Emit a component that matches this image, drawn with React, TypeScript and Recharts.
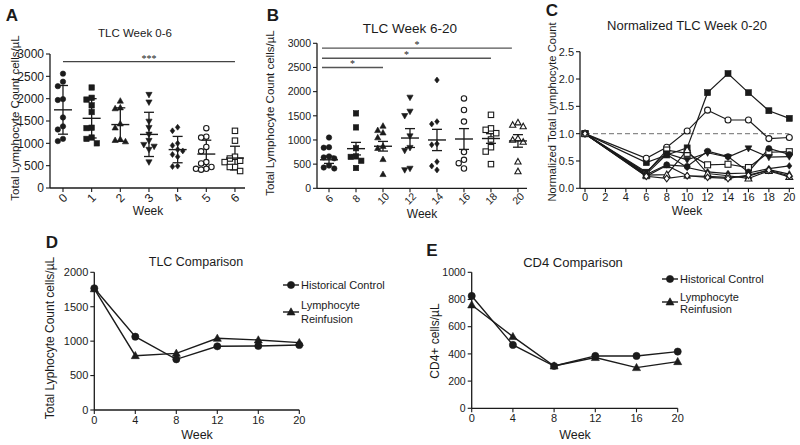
import React from "react";
import {
  ErrorBar,
  Line,
  LineChart,
  ReferenceLine,
  Scatter,
  ScatterChart,
  XAxis,
  YAxis,
} from "recharts";

const W = 800;
const H = 445;
const INK = "#1b1b1b";
const FONT = "'Liberation Sans', Arial, Helvetica, sans-serif";

// A – TLC week 0-6 (cells/µL), mean ± SD
const weeksA = [0, 1, 2, 3, 4, 5, 6];
const tlcA = [
  [2560, 2380, 2280, 1990, 1970, 1580, 1380, 1310, 1100, 1050],
  [2250, 2020, 1980, 1850, 1700, 1350, 1340, 1130, 1100, 1000],
  [1950, 1800, 1780, 1440, 1350, 1090, 1070, 1040],
  [2090, 1920, 1490, 1350, 1200, 1060, 970, 930, 860, 580],
  [1360, 1280, 1000, 950, 860, 830, 750, 700, 490, 480],
  [1340, 1150, 1130, 920, 820, 580, 550, 470, 430, 430, 410],
  [1280, 1060, 700, 660, 610, 580, 470, 470, 380],
];
const meanA = [1750, 1560, 1420, 1200, 860, 760, 670];
const sdA = [545, 440, 375, 495, 295, 310, 265];
const markA = ["circle", "square", "triangle", "itriangle", "diamond", "ocircle", "osquare"];

// B – TLC week 6-20 (cells/µL), mean ± SEM
const weeksB = [6, 8, 10, 12, 14, 16, 18, 20];
const tlcB = [
  [1050, 850, 840, 660, 640, 620, 470, 430, 410],
  [1550, 1260, 830, 660, 650, 570, 420],
  [1290, 1200, 1150, 1050, 870, 830, 600, 290],
  [1880, 1590, 1500, 1080, 840, 780, 410, 380],
  [2240, 1380, 1330, 920, 900, 550, 460, 380],
  [1860, 1620, 1380, 750, 590, 520, 410],
  [1520, 1240, 1210, 1140, 1010, 850, 760, 500],
  [1360, 1310, 1280, 1030, 1000, 960, 550, 350],
];
const meanB = [590, 820, 870, 1040, 1000, 1020, 1030, 980];
const semB = [75, 130, 100, 195, 220, 215, 100, 130];
const markB = ["circle", "square", "triangle", "itriangle", "diamond", "ocircle", "osquare", "otriangle"];

// C – normalized TLC per patient
const weeksC = [0, 6, 8, 10, 12, 14, 16, 18, 20];
const normC = [
  [1, 0.47, 0.61, 0.74, 1.75, 2.1, 1.75, 1.42, 1.28],
  [1, 0.55, 0.75, 1.05, 1.43, 1.25, 1.25, 0.91, 0.93],
  [1, 0.28, 0.7, 0.64, 0.43, 0.44, 0.38, 0.66, 0.67],
  [1, 0.3, 0.64, 0.52, 0.65, 0.57, 0.73, 0.57, 0.58],
  [1, 0.25, 0.43, 0.4, 0.68, 0.58, 0.3, 0.73, 0.62],
  [1, 0.26, 0.62, 0.38, 0.3, 0.27, 0.28, 0.36, 0.41],
  [1, 0.22, 0.42, 0.23, 0.22, 0.2, 0.22, 0.34, 0.26],
  [1, 0.24, 0.25, 0.7, 0.27, 0.23, 0.18, 0.32, 0.21],
  [1, 0.22, 0.18, 0.23, 0.2, 0.18, 0.24, 0.33, 0.23],
];
const markC = ["square", "ocircle", "osquare", "itriangle", "circle", "diamond", "triangle", "otriangle", "odiamond"];

// D / E – group means
const weeksDE = [0, 4, 8, 12, 16, 20];
const tlcHist = [1768, 1065, 736, 925, 930, 944];
const tlcReinf = [1760, 789, 823, 1041, 1017, 978];
const cd4Hist = [826, 466, 311, 385, 385, 417];
const cd4Reinf = [760, 527, 311, 373, 299, 343];

type Box = { L: number; T: number; R: number; B: number };
const margin = (b: Box, yw: number, xh: number) => ({
  left: b.L - yw,
  top: b.T,
  right: W - b.R,
  bottom: H - b.B - xh,
});

function Marker({ kind, cx, cy, s = 2.7 }: { kind: string; cx: number; cy: number; s?: number }) {
  const open = kind.startsWith("o");
  const base = open ? kind.slice(1) : kind;
  const st = { fill: open ? "#fff" : INK, stroke: INK, strokeWidth: open ? 1.1 : 0.6 };
  if (base === "circle") return <circle cx={cx} cy={cy} r={s} {...st} />;
  if (base === "square") return <rect x={cx - s} y={cy - s} width={2 * s} height={2 * s} {...st} />;
  if (base === "triangle")
    return <path d={`M${cx},${cy - s * 1.2}L${cx + s * 1.15},${cy + s * 0.85}L${cx - s * 1.15},${cy + s * 0.85}Z`} {...st} />;
  if (base === "itriangle")
    return <path d={`M${cx},${cy + s * 1.2}L${cx + s * 1.15},${cy - s * 0.85}L${cx - s * 1.15},${cy - s * 0.85}Z`} {...st} />;
  if (base === "diamond")
    return <path d={`M${cx},${cy - s * 1.1}L${cx + s * 0.85},${cy}L${cx},${cy + s * 1.1}L${cx - s * 0.85},${cy}Z`} {...st} />;
  return null;
}

// spread overlapping points sideways, like a column scatter
function swarm(vals: number[], gap: number, step: number) {
  const placed: { x: number; y: number }[] = [];
  const slots = [0, -1, 1, -2, 2, -3, 3];
  return vals.map((v) => {
    const near = placed.filter((p) => Math.abs(p.y - v) < gap);
    const k = slots.find((o) => near.every((p) => Math.abs(p.x - o * step) > step * 0.5)) ?? 0;
    placed.push({ x: k * step, y: v });
    return k * step;
  });
}

const rotTick = (dy: number, fs: number) => (p: any) => (
  <text
    x={p.x}
    y={p.y + dy}
    transform={`rotate(-45 ${p.x} ${p.y + dy})`}
    textAnchor="middle"
    dominantBaseline="central"
    fontSize={fs}
    fill={INK}
    fontFamily={FONT}
  >
    {p.payload.value}
  </text>
);

const axisStyle = (fs: number) => ({
  axisLine: { stroke: INK, strokeWidth: 1.3 },
  tickLine: { stroke: INK, strokeWidth: 1.1 },
  tickSize: 4,
  tick: { fontSize: fs, fill: INK, fontFamily: FONT },
});

type Sig = { x1: number; x2: number; y: number; label: string };

function ColumnScatter(props: {
  box: Box;
  weeks: number[];
  groups: number[][];
  means: number[];
  errs: number[];
  marks: string[];
  xDomain: [number, number];
  yTicks: number[];
  gap: number;
  step: number;
  fs: number;
  sigs: Sig[];
  sigColor: string;
}) {
  const { box, weeks, groups, means, errs, marks, xDomain, yTicks, gap, step, fs, sigs, sigColor } = props;
  const meanData = weeks.map((w, i) => ({ x: w, y: means[i], err: errs[i] }));
  return (
    <div style={{ position: "absolute", left: 0, top: 0 }}>
      <ScatterChart width={W} height={H} margin={margin(box, 44, 20)}>
        <XAxis
          type="number"
          dataKey="x"
          domain={xDomain}
          ticks={weeks}
          allowDataOverflow
          {...axisStyle(fs)}
          tick={rotTick(4, fs)}
          height={20}
        />
        <YAxis
          type="number"
          dataKey="y"
          domain={[0, yTicks[yTicks.length - 1]]}
          ticks={yTicks}
          width={44}
          {...axisStyle(fs)}
          tickMargin={2}
        />
        {sigs.map((s, i) => (
          <ReferenceLine
            key={i}
            segment={[
              { x: s.x1, y: s.y },
              { x: s.x2, y: s.y },
            ]}
            stroke={sigColor}
            strokeWidth={1.4}
            label={{ value: s.label, position: "top", fontSize: 10, fill: INK, offset: 0 }}
          />
        ))}
        {groups.map((vals, i) => {
          const offs = swarm(vals, gap, step);
          const data = vals.map((v, j) => ({ x: weeks[i] + offs[j], y: v }));
          return (
            <Scatter
              key={i}
              data={data}
              isAnimationActive={false}
              shape={(p: any) => <Marker kind={marks[i]} cx={p.cx} cy={p.cy} />}
            />
          );
        })}
        <Scatter
          data={meanData}
          isAnimationActive={false}
          shape={(p: any) => (
            <line x1={p.cx - 9} x2={p.cx + 9} y1={p.cy} y2={p.cy} stroke={INK} strokeWidth={1.4} />
          )}
        >
          <ErrorBar dataKey="err" direction="y" width={5} stroke={INK} strokeWidth={1.3} />
        </Scatter>
      </ScatterChart>
    </div>
  );
}

function NormalizedChart() {
  const box: Box = { L: 580, T: 51.7, R: 794, B: 188.3 };
  const rows = weeksC.map((w, j) => {
    const r: Record<string, number> = { week: w };
    normC.forEach((s, i) => (r[`p${i}`] = s[j]));
    return r;
  });
  return (
    <div style={{ position: "absolute", left: 0, top: 0 }}>
      <LineChart width={W} height={H} data={rows} margin={margin(box, 40, 20)}>
        <XAxis
          type="number"
          dataKey="week"
          domain={[-0.49, 20.46]}
          ticks={[0, 2, 4, 6, 8, 10, 12, 14, 16, 18, 20]}
          allowDataOverflow
          height={20}
          {...axisStyle(11)}
          tickMargin={1}
        />
        <YAxis
          type="number"
          domain={[0, 2.5]}
          ticks={[0, 0.5, 1, 1.5, 2, 2.5]}
          tickFormatter={(v: number) => v.toFixed(1)}
          width={40}
          {...axisStyle(11)}
          tickMargin={2}
        />
        <ReferenceLine
          segment={[
            { x: 0, y: 1 },
            { x: 20, y: 1 },
          ]}
          stroke="#8a8a8a"
          strokeWidth={1.3}
          strokeDasharray="5 3"
        />
        {normC.map((_, i) => (
          <Line
            key={i}
            dataKey={`p${i}`}
            type="linear"
            stroke={INK}
            strokeWidth={1.2}
            isAnimationActive={false}
            dot={(p: any) => <Marker key={p.index} kind={markC[i]} cx={p.cx} cy={p.cy} s={3} />}
          />
        ))}
      </LineChart>
    </div>
  );
}

function ComparisonChart(props: {
  box: Box;
  hist: number[];
  reinf: number[];
  yTicks: number[];
  fs: number;
}) {
  const { box, hist, reinf, yTicks, fs } = props;
  const rows = weeksDE.map((w, i) => ({ week: w, hist: hist[i], reinf: reinf[i] }));
  return (
    <div style={{ position: "absolute", left: 0, top: 0 }}>
      <LineChart width={W} height={H} data={rows} margin={margin(box, 40, 20)}>
        <XAxis
          type="number"
          dataKey="week"
          domain={[0, 20]}
          ticks={weeksDE}
          height={20}
          {...axisStyle(11)}
          tickMargin={2}
        />
        <YAxis
          type="number"
          domain={[0, yTicks[yTicks.length - 1]]}
          ticks={yTicks}
          width={40}
          {...axisStyle(fs)}
          tickMargin={2}
        />
        <Line
          dataKey="reinf"
          type="linear"
          stroke={INK}
          strokeWidth={1.4}
          isAnimationActive={false}
          dot={(p: any) => <Marker key={p.index} kind="triangle" cx={p.cx} cy={p.cy} s={3.5} />}
        />
        <Line
          dataKey="hist"
          type="linear"
          stroke={INK}
          strokeWidth={1.4}
          isAnimationActive={false}
          dot={(p: any) => <Marker key={p.index} kind="circle" cx={p.cx} cy={p.cy} s={3.6} />}
        />
      </LineChart>
    </div>
  );
}

function T(props: { x: number; y: number; fs: number; children: React.ReactNode; bold?: boolean; rot?: boolean; anchor?: string }) {
  const { x, y, fs, bold, rot, anchor = "middle" } = props;
  return (
    <text
      x={x}
      y={y}
      fontSize={fs}
      fontWeight={bold ? 700 : 400}
      fill={INK}
      fontFamily={FONT}
      textAnchor={anchor}
      dominantBaseline="central"
      transform={rot ? `rotate(-90 ${x} ${y})` : undefined}
    >
      {props.children}
    </text>
  );
}

function LegendKey({ x, y, kind }: { x: number; y: number; kind: string }) {
  return (
    <g>
      <line x1={x - 8} x2={x + 8} y1={y} y2={y} stroke={INK} strokeWidth={1.4} />
      <Marker kind={kind} cx={x} cy={y} s={kind === "circle" ? 3.6 : 3.5} />
    </g>
  );
}

export default function App() {
  return (
    <div style={{ position: "absolute", left: 0, top: 0, width: W, height: H, background: "#fff" }}>
      <ColumnScatter
        box={{ L: 50, T: 54, R: 245, B: 188 }}
        weeks={weeksA}
        groups={tlcA}
        means={meanA}
        errs={sdA}
        marks={markA}
        xDomain={[-0.453, 6.35]}
        yTicks={[0, 500, 1000, 1500, 2000, 2500, 3000]}
        gap={135}
        step={0.18}
        fs={12}
        sigs={[{ x1: 0, x2: 6, y: 2830, label: "***" }]}
        sigColor="#444"
      />
      <ColumnScatter
        box={{ L: 317, T: 43.3, R: 527, B: 188.3 }}
        weeks={weeksB}
        groups={tlcB}
        means={meanB}
        errs={semB}
        marks={markB}
        xDomain={[5.11, 20.67]}
        yTicks={[0, 500, 1000, 1500, 2000, 2500, 3000]}
        gap={125}
        step={0.39}
        fs={10.5}
        sigs={[
          { x1: 5.48, x2: 10, y: 2500, label: "*" },
          { x1: 5.48, x2: 18, y: 2690, label: "*" },
          { x1: 5.48, x2: 19.55, y: 2900, label: "*" },
        ]}
        sigColor="#555"
      />
      <NormalizedChart />
      <ComparisonChart
        box={{ L: 94.3, T: 272.3, R: 299.3, B: 410 }}
        hist={tlcHist}
        reinf={tlcReinf}
        yTicks={[0, 500, 1000, 1500, 2000]}
        fs={11}
      />
      <ComparisonChart
        box={{ L: 471.7, T: 272.3, R: 677.7, B: 408.3 }}
        hist={cd4Hist}
        reinf={cd4Reinf}
        yTicks={[0, 200, 400, 600, 800, 1000]}
        fs={10.5}
      />
      <svg width={W} height={H} style={{ position: "absolute", left: 0, top: 0, pointerEvents: "none" }}>
        <T x={12} y={15} fs={17} bold>A</T>
        <T x={273} y={15} fs={17} bold>B</T>
        <T x={552} y={10} fs={17} bold>C</T>
        <T x={52} y={242} fs={17} bold>D</T>
        <T x={432} y={250} fs={17} bold>E</T>

        <T x={135} y={33} fs={11.5}>TLC Week 0-6</T>
        <T x={410} y={28} fs={13.5}>TLC Week 6-20</T>
        <T x={687} y={25} fs={13}>Normalized TLC Week 0-20</T>
        <T x={196} y={262} fs={12.5}>TLC Comparison</T>
        <T x={573} y={262} fs={13}>CD4 Comparison</T>

        <T x={15} y={118} fs={11.5} rot>Total Lymphocyte Count cells/µL</T>
        <T x={270} y={113} fs={11.5} rot>Total Lymphocyte Count cells/µL</T>
        <T x={552} y={112} fs={11.2} rot>Normalized Total Lymphocyte Count</T>
        <T x={50} y={338} fs={12} rot>Total Lyphocyte Count cells/µL</T>
        <T x={435} y={341} fs={12} rot>CD4+ cells/µL</T>

        <T x={148} y={211} fs={12}>Week</T>
        <T x={422} y={214} fs={12}>Week</T>
        <T x={687} y={211} fs={12}>Week</T>
        <T x={197} y={435} fs={12.5}>Week</T>
        <T x={575} y={435} fs={12.5}>Week</T>

        <LegendKey x={291} y={285} kind="circle" />
        <T x={301} y={285} fs={11} anchor="start">Historical Control</T>
        <LegendKey x={291} y={312} kind="triangle" />
        <T x={301} y={305} fs={11} anchor="start">Lymphocyte</T>
        <T x={301} y={318.5} fs={11} anchor="start">Reinfusion</T>

        <LegendKey x={670} y={279} kind="circle" />
        <T x={680} y={279} fs={11} anchor="start">Historical Control</T>
        <LegendKey x={670} y={302} kind="triangle" />
        <T x={680} y={296.5} fs={11} anchor="start">Lymphocyte</T>
        <T x={680} y={308.5} fs={11} anchor="start">Reinfusion</T>
      </svg>
    </div>
  );
}
